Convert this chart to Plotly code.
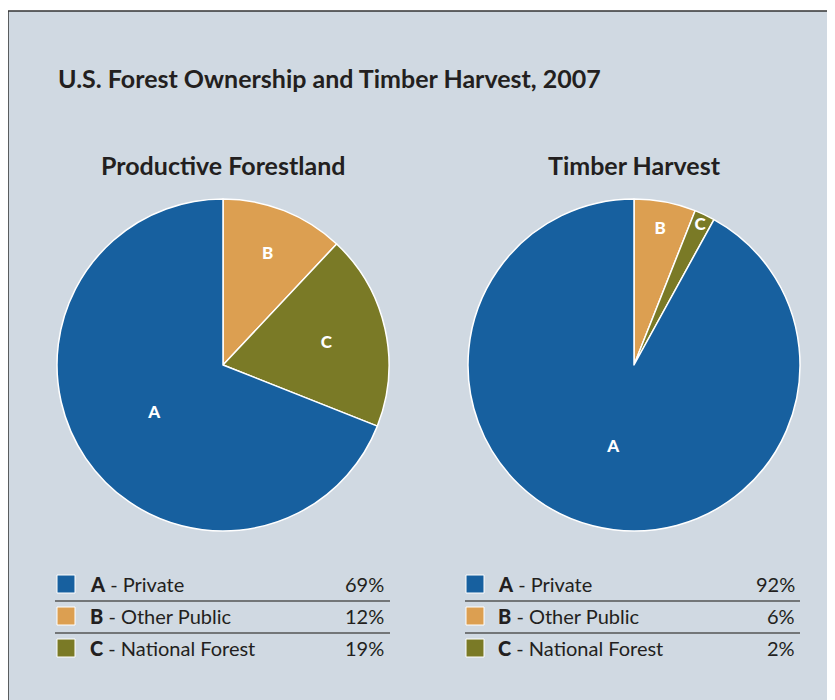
import plotly.graph_objects as go

# ---- data ----
letters = ["B", "C", "A"]
names = ["Other Public", "National Forest", "Private"]
forestland = [12, 19, 69]
harvest = [6, 2, 92]
colors = ["#dc9f51", "#7a7a26", "#17609f"]

legend_order = [2, 0, 1]  # A, B, C rows

W, H = 835, 700
BG = "#d0d9e2"
FONT = "Lato"
TXT = "#231f20"
OFF = 8  # page body margin


def px(x):
    return (x - OFF) / W


def py(y):
    return 1 - (y - OFF) / H


fig = go.Figure()

pies = [
    dict(values=forestland, cx=223, title="Productive Forestland", lx0=55, lx1=390, sq=57, tx=88, px_=386),
    dict(values=harvest, cx=634, title="Timber Harvest", lx0=465, lx1=800, sq=466, tx=496, px_=797),
]
R = 166
CY = 365

shapes = []
annotations = []

# panel background
shapes.append(dict(type="rect", xref="paper", yref="paper", x0=px(8), x1=px(850), y0=py(720), y1=py(11),
                   fillcolor=BG, line=dict(width=0), layer="below"))
shapes.append(dict(type="line", xref="paper", yref="paper", x0=px(8), x1=px(850), y0=py(11), y1=py(11),
                   line=dict(color="#333333", width=1.5)))
shapes.append(dict(type="line", xref="paper", yref="paper", x0=px(8), x1=px(8), y0=py(11), y1=py(720),
                   line=dict(color="#333333", width=1.5)))

for p in pies:
    fig.add_trace(go.Pie(
        values=p["values"], labels=names, text=letters,
        textinfo="text", textposition="inside", insidetextorientation="horizontal",
        sort=False, direction="clockwise", rotation=0,
        marker=dict(colors=colors, line=dict(color="white", width=1.5)),
        textfont=dict(family=FONT, size=17, color="white", weight=900),
        domain=dict(x=[px(p["cx"] - R), px(p["cx"] + R)], y=[py(CY + R), py(CY - R)]),
        hoverinfo="label+percent", showlegend=False,
    ))
    annotations.append(dict(text=f"<b>{p['title']}</b>", x=px(p["cx"]), y=py(165), xref="paper", yref="paper",
                            showarrow=False, xanchor="center", yanchor="middle",
                            font=dict(family=FONT, size=25, color=TXT)))
    for row, idx in enumerate(legend_order):
        ymid = 584 + row * 32
        shapes.append(dict(type="rect", xref="paper", yref="paper", x0=px(p["sq"]), x1=px(p["sq"] + 18),
                           y0=py(ymid + 9), y1=py(ymid - 9), fillcolor=colors[idx],
                           line=dict(color="white", width=1)))
        annotations.append(dict(text=f"<span style='font-weight:900'>{letters[idx]}</span> - {names[idx]}",
                                x=px(p["tx"]), y=py(ymid),
                                xref="paper", yref="paper", showarrow=False, xanchor="left", yanchor="middle",
                                font=dict(family=FONT, size=20, color=TXT)))
        annotations.append(dict(text=f"{p['values'][idx]}%", x=px(p["px_"]), y=py(ymid),
                                xref="paper", yref="paper", showarrow=False, xanchor="right", yanchor="middle",
                                font=dict(family=FONT, size=20, color=TXT)))
        if row < 2:
            ly = ymid + 17
            shapes.append(dict(type="line", xref="paper", yref="paper", x0=px(p["lx0"]), x1=px(p["lx1"]),
                               y0=py(ly), y1=py(ly), line=dict(color="#555555", width=1.5)))

annotations.append(dict(text="<b>U.S. Forest Ownership and Timber Harvest, 2007</b>", x=px(56), y=py(78),
                        xref="paper", yref="paper", showarrow=False, xanchor="left", yanchor="middle",
                        font=dict(family=FONT, size=25, color=TXT)))

fig.update_layout(
    width=W, height=H, margin=dict(l=0, r=0, t=0, b=0),
    paper_bgcolor="white", plot_bgcolor="white",
    shapes=shapes, annotations=annotations,
    uniformtext=dict(minsize=17, mode="show"),
)

fig.write_html("out.html")
